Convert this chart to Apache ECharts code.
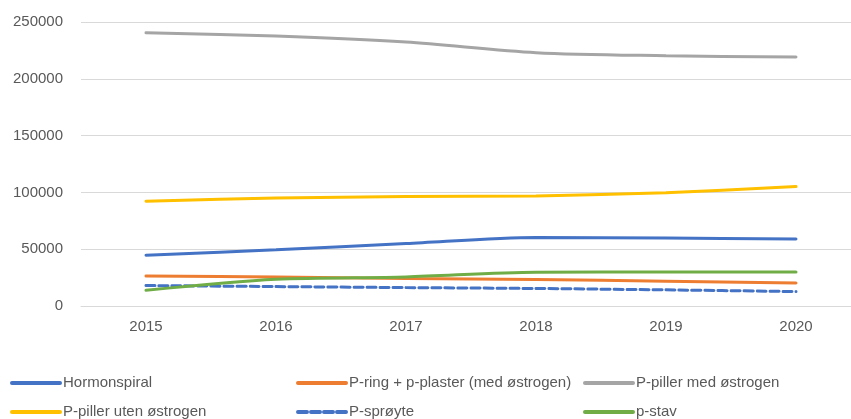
<!DOCTYPE html>
<html>
<head>
<meta charset="utf-8">
<script src="https://cdn.jsdelivr.net/npm/echarts@6/dist/echarts.min.js"></script>
<style>
  html, body { margin: 0; padding: 0; background: #fff; overflow: hidden; }
  /* plot area runs a little past the right edge of the window, like the cropped source */
  #chart { width: 871px; height: 419px; }
</style>
</head>
<body>
<div id="chart"></div>
<script>
// values
var years = ['2015', '2016', '2017', '2018', '2019', '2020'];
var seriesNames = ['Hormonspiral', 'P-ring + p-plaster (med østrogen)', 'P-piller med østrogen',
                   'P-piller uten østrogen', 'P-sprøyte', 'p-stav'];
var hormonspiral = [44700, 49500, 55000, 60400, 59800, 58900];
var pRing = [26400, 25500, 24100, 23300, 21800, 20300];
var pPillerMed = [240500, 237600, 232300, 223000, 220300, 219100];
var pPillerUten = [92200, 95100, 96300, 96900, 99800, 105100];
var pSproyte = [18000, 17100, 16200, 15400, 14200, 12700];
var pStav = [13800, 23500, 25600, 29800, 29900, 29900];
var yTicks = { min: 0, max: 250000, interval: 50000 };

(function() {
  var txt = '#595959';
  var grid = '#d9d9d9';
  var font = '"Liberation Sans", Arial, sans-serif';
  var colors = ['#4472c4', '#ed7d31', '#a5a5a5', '#ffc000', '#4472c4', '#70ad47'];
  var values = [hormonspiral, pRing, pPillerMed, pPillerUten, pSproyte, pStav];

  // legend slots: [left, top] per item, Excel-style 3 columns x 2 rows
  var slots = [[10, 375], [296, 375], [583, 375], [10, 404], [296, 404], [583, 404]];

  var legends = seriesNames.map(function(name, i) {
    return {
      data: [name],
      left: slots[i][0],
      top: slots[i][1],
      padding: 0,
      itemWidth: 48,
      itemHeight: 14,
      itemStyle: { opacity: 0 },
      lineStyle: { width: 4 },
      textStyle: { color: txt, fontSize: 15, fontFamily: font, lineHeight: 16, padding: [0, 0, 0, -2] }
    };
  });

  var series = seriesNames.map(function(name, i) {
    return {
      name: name,
      type: 'line',
      data: values[i],
      smooth: 0.3,
      symbol: 'none',
      lineStyle: { color: colors[i], width: 3, type: i === 4 ? [9, 4] : 'solid', cap: 'round' },
      itemStyle: { color: colors[i] }
    };
  });

  var chart = echarts.init(document.getElementById('chart'), null, { renderer: 'canvas' });
  chart.setOption({
    animation: false,
    textStyle: { fontFamily: font },
    legend: legends,
    grid: { left: 81, top: 22, right: 10, height: 284, containLabel: false },
    xAxis: {
      type: 'category',
      data: years,
      boundaryGap: true,
      axisLine: { show: true, lineStyle: { color: grid, width: 1 } },
      axisTick: { show: false },
      axisLabel: { color: txt, fontSize: 15, margin: 13 }
    },
    yAxis: {
      type: 'value',
      min: yTicks.min,
      max: yTicks.max,
      interval: yTicks.interval,
      axisLine: { show: false },
      axisTick: { show: false },
      axisLabel: { color: txt, fontSize: 15, margin: 18, formatter: function(v) { return String(v); } },
      splitLine: { lineStyle: { color: grid, width: 1 } }
    },
    series: series
  });
  window.addEventListener('resize', function() { chart.resize(); });
})();
</script>
</body>
</html>
